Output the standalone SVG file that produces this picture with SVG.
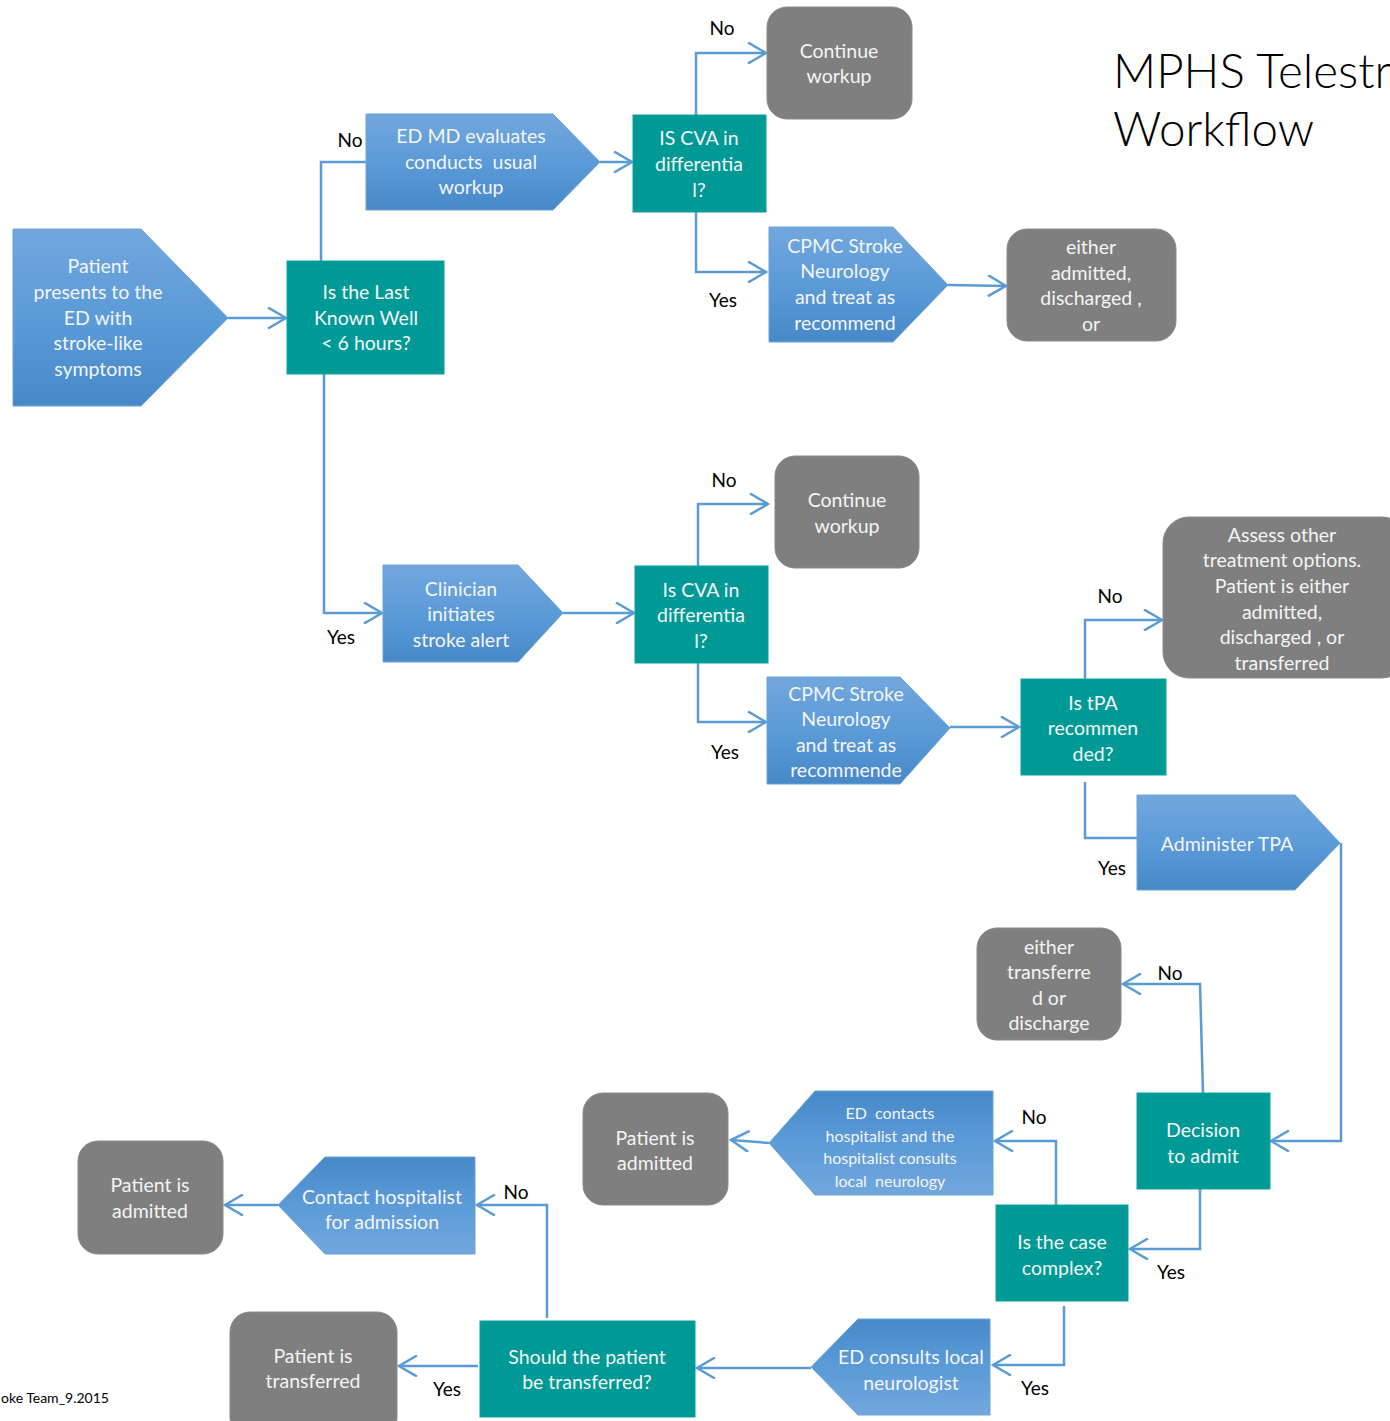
<svg xmlns="http://www.w3.org/2000/svg" width="1390" height="1421" viewBox="0 0 1390 1421">
<defs>
<linearGradient id="gDown" x1="0" y1="0" x2="0" y2="1">
<stop offset="0" stop-color="#72A7DD"/><stop offset="0.5" stop-color="#5B9BD8"/><stop offset="1" stop-color="#4788C8"/>
</linearGradient>
<linearGradient id="gUp" x1="0" y1="0" x2="0" y2="1">
<stop offset="0" stop-color="#4788C8"/><stop offset="0.5" stop-color="#5B9BD8"/><stop offset="1" stop-color="#72A7DD"/>
</linearGradient>
<marker id="arr" viewBox="0 0 22 22" refX="20" refY="11" markerWidth="22" markerHeight="22" markerUnits="userSpaceOnUse" orient="auto">
<path d="M2,0.5 L20,11 L2,21.5" fill="none" stroke="#5B9BD5" stroke-width="2.5"/>
</marker>
<style>
.blueD{fill:url(#gDown);stroke:#6AA3DA;stroke-width:1}
.blueU{fill:url(#gUp);stroke:#6AA3DA;stroke-width:1}
.teal{fill:#009A96;stroke:#0AA29E;stroke-width:1}
.gray{fill:#7F7F7F;stroke:#8A8A8A;stroke-width:1}
.t{font-family:Lato,"Liberation Sans",sans-serif;font-size:19.5px;fill:#F4F4F4;text-anchor:middle}
.ts{font-family:Lato,"Liberation Sans",sans-serif;font-size:16px;fill:#F4F4F4;text-anchor:middle}
.lbl{font-family:Lato,"Liberation Sans",sans-serif;font-size:19px;fill:#000;text-anchor:middle}
.conn{fill:none;stroke:#5B9BD5;stroke-width:2.5}
.title{font-family:Lato,"Liberation Sans",sans-serif;font-size:47.5px;font-weight:300;fill:#000}
.foot{font-family:Lato,"Liberation Sans",sans-serif;font-size:14px;fill:#000}
</style>
</defs>
<rect x="0" y="0" width="1390" height="1421" fill="#FFFFFF"/>

<g id="connectors">
<path class="conn" d="M228,318 H286" marker-end="url(#arr)"/>
<path class="conn" d="M321,261 V162 H366"/>
<path class="conn" d="M324,374 V613 H382" marker-end="url(#arr)"/>
<path class="conn" d="M600,162 H632" marker-end="url(#arr)"/>
<path class="conn" d="M696,115 V53 H766" marker-end="url(#arr)"/>
<path class="conn" d="M696,212 V272 H766" marker-end="url(#arr)"/>
<path class="conn" d="M948,285 L1006,286" marker-end="url(#arr)"/>
<path class="conn" d="M563,613 H634" marker-end="url(#arr)"/>
<path class="conn" d="M698,566 V504 H768" marker-end="url(#arr)"/>
<path class="conn" d="M698,663 V722 H766" marker-end="url(#arr)"/>
<path class="conn" d="M950,727 H1019" marker-end="url(#arr)"/>
<path class="conn" d="M1085,679 V620 H1162" marker-end="url(#arr)"/>
<path class="conn" d="M1085,782 V838 H1137"/>
<path class="conn" d="M1341,843 V1141 H1271" marker-end="url(#arr)"/>
<path class="conn" d="M1203,1093 L1200,984 H1123" marker-end="url(#arr)"/>
<path class="conn" d="M1200,1189 V1249 H1130" marker-end="url(#arr)"/>
<path class="conn" d="M1056,1205 V1141 H995" marker-end="url(#arr)"/>
<path class="conn" d="M769,1143 L731,1140" marker-end="url(#arr)"/>
<path class="conn" d="M1064,1306 V1365 H993" marker-end="url(#arr)"/>
<path class="conn" d="M811,1368 H697" marker-end="url(#arr)"/>
<path class="conn" d="M547,1318 V1205 H477" marker-end="url(#arr)"/>
<path class="conn" d="M278,1205 H225" marker-end="url(#arr)"/>
<path class="conn" d="M478,1366 H399" marker-end="url(#arr)"/>
</g>

<g id="labels">
<text class="lbl" x="350" y="147">No</text>
<text class="lbl" x="722" y="35">No</text>
<text class="lbl" x="723" y="307">Yes</text>
<text class="lbl" x="724" y="487">No</text>
<text class="lbl" x="341" y="644">Yes</text>
<text class="lbl" x="725" y="759">Yes</text>
<text class="lbl" x="1110" y="603">No</text>
<text class="lbl" x="1112" y="875">Yes</text>
<text class="lbl" x="1170" y="980">No</text>
<text class="lbl" x="1171" y="1279">Yes</text>
<text class="lbl" x="1034" y="1124">No</text>
<text class="lbl" x="1035" y="1395">Yes</text>
<text class="lbl" x="516" y="1199">No</text>
<text class="lbl" x="447" y="1396">Yes</text>
</g>

<g id="title">
<text class="title" x="1113" y="88">MPHS Telestr</text>
<text class="title" x="1113" y="146">Workflow</text>
</g>

<g id="n-patient-presents">
<polygon class="blueD" points="13,229 141,229 228,318 141,406 13,406"/>
<text class="t" x="98" y="273">Patient</text>
<text class="t" x="98" y="299">presents to the</text>
<text class="t" x="98" y="325">ED with</text>
<text class="t" x="98" y="350">stroke-like</text>
<text class="t" x="98" y="376">symptoms</text>
</g>

<g id="n-last-known-well">
<rect class="teal" x="287" y="261" width="157" height="113"/>
<text class="t" x="366" y="299">Is the Last</text>
<text class="t" x="366" y="325">Known Well</text>
<text class="t" x="366" y="350">&lt; 6 hours?</text>
</g>

<g id="n-ed-md">
<polygon class="blueD" points="366,114 553,114 600,162 553,210 366,210"/>
<text class="t" x="471" y="143">ED MD evaluates</text>
<text class="t" x="471" y="169" xml:space="preserve">conducts  usual</text>
<text class="t" x="471" y="194">workup</text>
</g>

<g id="n-cva1">
<rect class="teal" x="633" y="115" width="133" height="97"/>
<text class="t" x="699" y="145">IS CVA in</text>
<text class="t" x="699" y="171">differentia</text>
<text class="t" x="699" y="197">l?</text>
</g>

<g id="n-continue1">
<rect class="gray" x="767" y="7" width="145" height="112" rx="20"/>
<text class="t" x="839" y="58">Continue</text>
<text class="t" x="839" y="83">workup</text>
</g>

<g id="n-cpmc1">
<polygon class="blueD" points="769,227 893,227 948,285 893,342 769,342"/>
<text class="t" x="845" y="253">CPMC Stroke</text>
<text class="t" x="845" y="278">Neurology</text>
<text class="t" x="845" y="304">and treat as</text>
<text class="t" x="845" y="330">recommend</text>
</g>

<g id="n-outcome1">
<rect class="gray" x="1007" y="229" width="169" height="112" rx="20"/>
<text class="t" x="1091" y="254">either</text>
<text class="t" x="1091" y="280">admitted,</text>
<text class="t" x="1091" y="305">discharged ,</text>
<text class="t" x="1091" y="331">or</text>
</g>

<g id="n-clinician">
<polygon class="blueD" points="383,565 518,565 563,613 518,662 383,662"/>
<text class="t" x="461" y="596">Clinician</text>
<text class="t" x="461" y="621">initiates</text>
<text class="t" x="461" y="647">stroke alert</text>
</g>

<g id="n-cva2">
<rect class="teal" x="635" y="566" width="133" height="97"/>
<text class="t" x="701" y="597">Is CVA in</text>
<text class="t" x="701" y="622">differentia</text>
<text class="t" x="701" y="648">l?</text>
</g>

<g id="n-continue2">
<rect class="gray" x="775" y="456" width="144" height="112" rx="20"/>
<text class="t" x="847" y="507">Continue</text>
<text class="t" x="847" y="533">workup</text>
</g>

<g id="n-cpmc2">
<polygon class="blueD" points="767,677 900,677 950,728 900,784 767,784"/>
<text class="t" x="846" y="701">CPMC Stroke</text>
<text class="t" x="846" y="726">Neurology</text>
<text class="t" x="846" y="752">and treat as</text>
<text class="t" x="846" y="777">recommende</text>
</g>

<g id="n-tpa">
<rect class="teal" x="1021" y="679" width="145" height="96"/>
<text class="t" x="1093" y="710">Is tPA</text>
<text class="t" x="1093" y="735">recommen</text>
<text class="t" x="1093" y="761">ded?</text>
</g>

<g id="n-assess">
<rect class="gray" x="1163" y="517" width="245" height="161" rx="26"/>
<text class="t" x="1282" y="542">Assess other</text>
<text class="t" x="1282" y="567">treatment options.</text>
<text class="t" x="1282" y="593">Patient is either</text>
<text class="t" x="1282" y="619">admitted,</text>
<text class="t" x="1282" y="644">discharged , or</text>
<text class="t" x="1282" y="670">transferred</text>
</g>

<g id="n-administer">
<polygon class="blueD" points="1137,795 1295,795 1340,843 1295,890 1137,890"/>
<text class="t" x="1227" y="851">Administer TPA</text>
</g>

<g id="n-decision">
<rect class="teal" x="1137" y="1093" width="133" height="96"/>
<text class="t" x="1203" y="1137">Decision</text>
<text class="t" x="1203" y="1163">to admit</text>
</g>

<g id="n-outcome2">
<rect class="gray" x="977" y="928" width="144" height="112" rx="20"/>
<text class="t" x="1049" y="954">either</text>
<text class="t" x="1049" y="979">transferre</text>
<text class="t" x="1049" y="1005">d or</text>
<text class="t" x="1049" y="1030">discharge</text>
</g>

<g id="n-complex">
<rect class="teal" x="996" y="1205" width="132" height="96"/>
<text class="t" x="1062" y="1249">Is the case</text>
<text class="t" x="1062" y="1275">complex?</text>
</g>

<g id="n-ed-contacts">
<polygon class="blueU" points="815,1091 993,1091 993,1195 815,1195 769,1143"/>
<text class="ts" x="890" y="1119" xml:space="preserve">ED  contacts</text>
<text class="ts" x="890" y="1142">hospitalist and the</text>
<text class="ts" x="890" y="1164">hospitalist consults</text>
<text class="ts" x="890" y="1187" xml:space="preserve">local  neurology</text>
</g>

<g id="n-admitted1">
<rect class="gray" x="583" y="1093" width="145" height="112" rx="20"/>
<text class="t" x="655" y="1145">Patient is</text>
<text class="t" x="655" y="1170">admitted</text>
</g>

<g id="n-ed-consults">
<polygon class="blueU" points="858,1319 990,1319 990,1415 858,1415 811,1367"/>
<text class="t" x="911" y="1364">ED consults local</text>
<text class="t" x="911" y="1390">neurologist</text>
</g>

<g id="n-should-transfer">
<rect class="teal" x="480" y="1321" width="215" height="96"/>
<text class="t" x="587" y="1364">Should the patient</text>
<text class="t" x="587" y="1389">be transferred?</text>
</g>

<g id="n-contact-hospitalist">
<polygon class="blueU" points="325,1157 475,1157 475,1254 325,1254 278,1205"/>
<text class="t" x="382" y="1204">Contact hospitalist</text>
<text class="t" x="382" y="1229">for admission</text>
</g>

<g id="n-admitted2">
<rect class="gray" x="78" y="1141" width="145" height="113" rx="20"/>
<text class="t" x="150" y="1192">Patient is</text>
<text class="t" x="150" y="1218">admitted</text>
</g>

<g id="n-transferred">
<rect class="gray" x="230" y="1312" width="167" height="125" rx="20"/>
<text class="t" x="313" y="1363">Patient is</text>
<text class="t" x="313" y="1388">transferred</text>
</g>

<g id="footer">
<text class="foot" x="1" y="1403">oke Team_9.2015</text>
</g>
</svg>
